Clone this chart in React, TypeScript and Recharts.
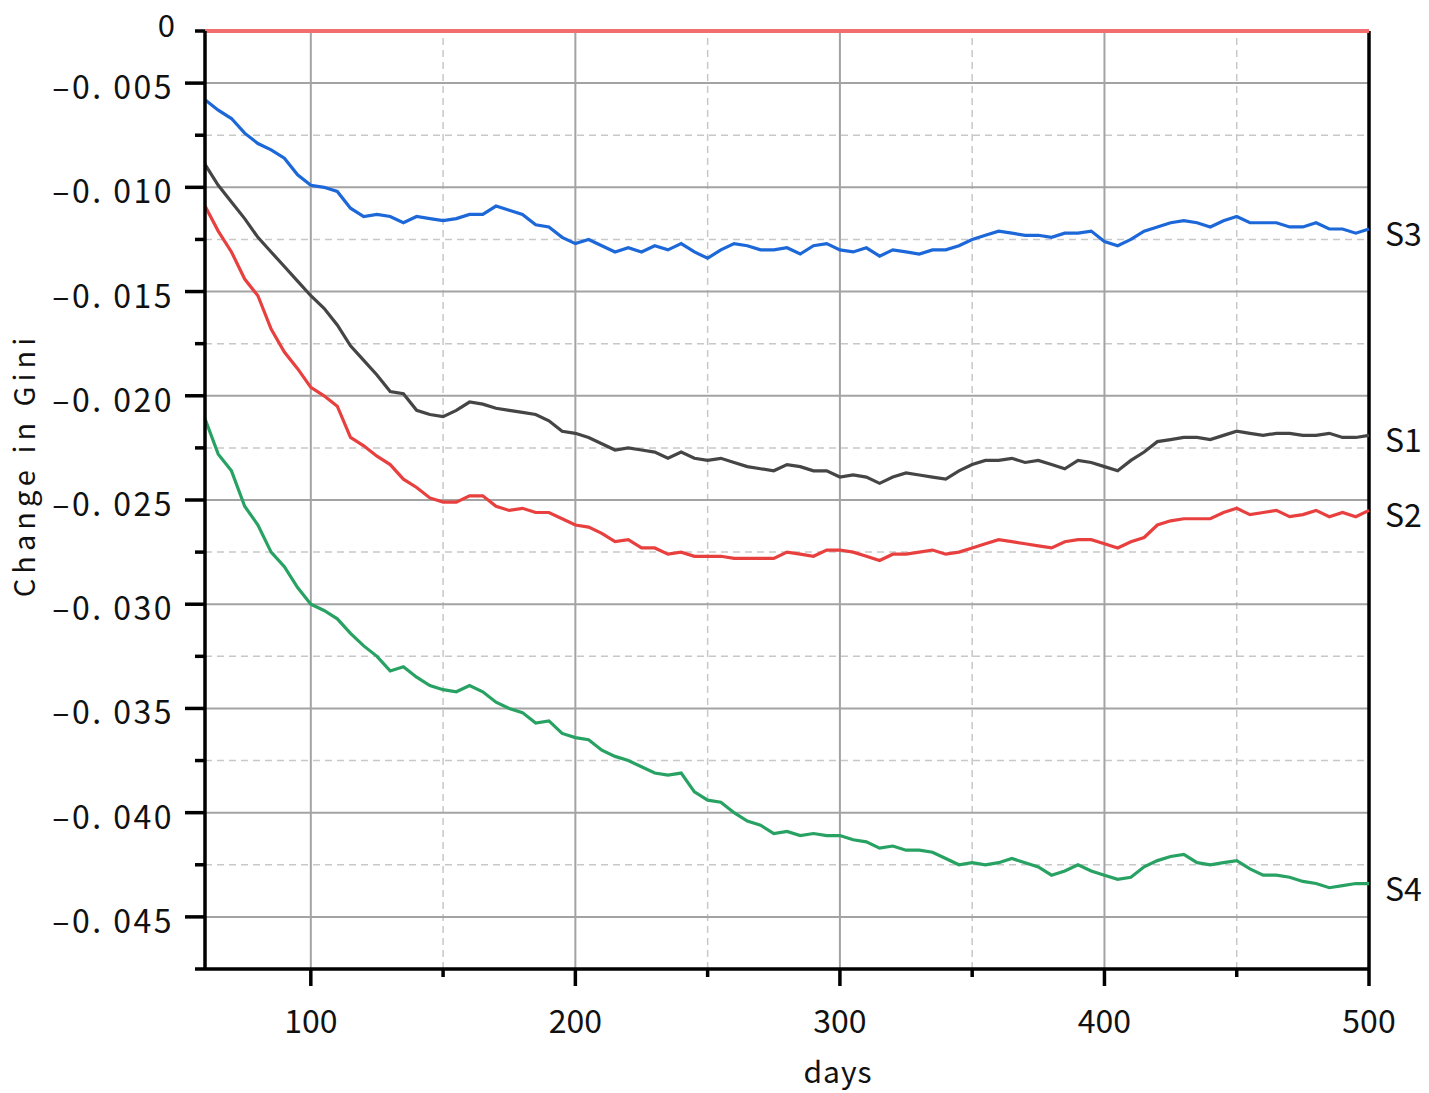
import React from "react";
import {
  LineChart,
  Line,
  XAxis,
  YAxis,
  ReferenceLine,
  Label,
} from "recharts";

// days sampled every 5
const DAYS = [
  60, 65, 70, 75, 80, 85, 90, 95, 100, 105, 110, 115, 120, 125, 130, 135, 140,
  145, 150, 155, 160, 165, 170, 175, 180, 185, 190, 195, 200, 205, 210, 215,
  220, 225, 230, 235, 240, 245, 250, 255, 260, 265, 270, 275, 280, 285, 290,
  295, 300, 305, 310, 315, 320, 325, 330, 335, 340, 345, 350, 355, 360, 365,
  370, 375, 380, 385, 390, 395, 400, 405, 410, 415, 420, 425, 430, 435, 440,
  445, 450, 455, 460, 465, 470, 475, 480, 485, 490, 495, 500,
];

const S1 = [
  -0.0089, -0.0099, -0.0107, -0.0115, -0.0124, -0.0131, -0.0138, -0.0145,
  -0.0152, -0.0158, -0.0166, -0.0176, -0.0183, -0.019, -0.0198, -0.0199,
  -0.0207, -0.0209, -0.021, -0.0207, -0.0203, -0.0204, -0.0206, -0.0207,
  -0.0208, -0.0209, -0.0212, -0.0217, -0.0218, -0.022, -0.0223, -0.0226,
  -0.0225, -0.0226, -0.0227, -0.023, -0.0227, -0.023, -0.0231, -0.023,
  -0.0232, -0.0234, -0.0235, -0.0236, -0.0233, -0.0234, -0.0236, -0.0236,
  -0.0239, -0.0238, -0.0239, -0.0242, -0.0239, -0.0237, -0.0238, -0.0239,
  -0.024, -0.0236, -0.0233, -0.0231, -0.0231, -0.023, -0.0232, -0.0231,
  -0.0233, -0.0235, -0.0231, -0.0232, -0.0234, -0.0236, -0.0231, -0.0227,
  -0.0222, -0.0221, -0.022, -0.022, -0.0221, -0.0219, -0.0217, -0.0218,
  -0.0219, -0.0218, -0.0218, -0.0219, -0.0219, -0.0218, -0.022, -0.022,
  -0.0219,
];

const S2 = [
  -0.0109, -0.0121, -0.0131, -0.0144, -0.0152, -0.0168, -0.0179, -0.0187,
  -0.0196, -0.02, -0.0205, -0.022, -0.0224, -0.0229, -0.0233, -0.024,
  -0.0244, -0.0249, -0.0251, -0.0251, -0.0248, -0.0248, -0.0253, -0.0255,
  -0.0254, -0.0256, -0.0256, -0.0259, -0.0262, -0.0263, -0.0266, -0.027,
  -0.0269, -0.0273, -0.0273, -0.0276, -0.0275, -0.0277, -0.0277, -0.0277,
  -0.0278, -0.0278, -0.0278, -0.0278, -0.0275, -0.0276, -0.0277, -0.0274,
  -0.0274, -0.0275, -0.0277, -0.0279, -0.0276, -0.0276, -0.0275, -0.0274,
  -0.0276, -0.0275, -0.0273, -0.0271, -0.0269, -0.027, -0.0271, -0.0272,
  -0.0273, -0.027, -0.0269, -0.0269, -0.0271, -0.0273, -0.027, -0.0268,
  -0.0262, -0.026, -0.0259, -0.0259, -0.0259, -0.0256, -0.0254, -0.0257,
  -0.0256, -0.0255, -0.0258, -0.0257, -0.0255, -0.0258, -0.0256, -0.0258,
  -0.0255,
];

const S3 = [
  -0.0058, -0.0063, -0.0067, -0.0074, -0.0079, -0.0082, -0.0086, -0.0094,
  -0.0099, -0.01, -0.0102, -0.011, -0.0114, -0.0113, -0.0114, -0.0117,
  -0.0114, -0.0115, -0.0116, -0.0115, -0.0113, -0.0113, -0.0109, -0.0111,
  -0.0113, -0.0118, -0.0119, -0.0124, -0.0127, -0.0125, -0.0128, -0.0131,
  -0.0129, -0.0131, -0.0128, -0.013, -0.0127, -0.0131, -0.0134, -0.013,
  -0.0127, -0.0128, -0.013, -0.013, -0.0129, -0.0132, -0.0128, -0.0127,
  -0.013, -0.0131, -0.0129, -0.0133, -0.013, -0.0131, -0.0132, -0.013,
  -0.013, -0.0128, -0.0125, -0.0123, -0.0121, -0.0122, -0.0123, -0.0123,
  -0.0124, -0.0122, -0.0122, -0.0121, -0.0126, -0.0128, -0.0125, -0.0121,
  -0.0119, -0.0117, -0.0116, -0.0117, -0.0119, -0.0116, -0.0114, -0.0117,
  -0.0117, -0.0117, -0.0119, -0.0119, -0.0117, -0.012, -0.012, -0.0122,
  -0.012,
];

const S4 = [
  -0.0211, -0.0228, -0.0236, -0.0253, -0.0262, -0.0275, -0.0282, -0.0292,
  -0.03, -0.0303, -0.0307, -0.0314, -0.032, -0.0325, -0.0332, -0.033,
  -0.0335, -0.0339, -0.0341, -0.0342, -0.0339, -0.0342, -0.0347, -0.035,
  -0.0352, -0.0357, -0.0356, -0.0362, -0.0364, -0.0365, -0.037, -0.0373,
  -0.0375, -0.0378, -0.0381, -0.0382, -0.0381, -0.039, -0.0394, -0.0395,
  -0.04, -0.0404, -0.0406, -0.041, -0.0409, -0.0411, -0.041, -0.0411,
  -0.0411, -0.0413, -0.0414, -0.0417, -0.0416, -0.0418, -0.0418, -0.0419,
  -0.0422, -0.0425, -0.0424, -0.0425, -0.0424, -0.0422, -0.0424, -0.0426,
  -0.043, -0.0428, -0.0425, -0.0428, -0.043, -0.0432, -0.0431, -0.0426,
  -0.0423, -0.0421, -0.042, -0.0424, -0.0425, -0.0424, -0.0423, -0.0427,
  -0.043, -0.043, -0.0431, -0.0433, -0.0434, -0.0436, -0.0435, -0.0434,
  -0.0434,
];

// axis break: the top of the axis stands for 0
const Y_TOP = -0.0025;
const Y_BOTTOM = -0.0475;
const Y_TICKS = [
  -0.0025, -0.005, -0.0075, -0.01, -0.0125, -0.015, -0.0175, -0.02, -0.0225,
  -0.025, -0.0275, -0.03, -0.0325, -0.035, -0.0375, -0.04, -0.0425, -0.045,
  -0.0475,
];
const Y_MAJOR = [
  -0.005, -0.01, -0.015, -0.02, -0.025, -0.03, -0.035, -0.04, -0.045,
];
const Y_MINOR = [
  -0.0075, -0.0125, -0.0175, -0.0225, -0.0275, -0.0325, -0.0375, -0.0425,
];
const X_TICKS = [100, 150, 200, 250, 300, 350, 400, 450, 500];
const X_MAJOR = [100, 200, 300, 400];
const X_MINOR = [150, 250, 350, 450];

const FONT = "'Noto Sans CJK SC', 'Noto Sans', sans-serif";
const AXIS_W = 3.5;

const data = DAYS.map((d, i) => ({
  day: d,
  s1: S1[i],
  s2: S2[i],
  s3: S3[i],
  s4: S4[i],
}));

const near = (a: number, b: number) => Math.abs(a - b) < 1e-9;

function fmtY(v: number) {
  const n = Math.round(-v * 1000);
  return `–0. ${String(n).padStart(3, "0")}`;
}

function YTick({ x, y, payload }: any) {
  const v = payload.value as number;
  const major = Y_MAJOR.some((m) => near(m, v));
  const len = major ? 20 : 10;
  return (
    <g>
      <line x1={x} x2={x - len} y1={y} y2={y} stroke="#000" strokeWidth={AXIS_W} />
      {major && (
        <text
          x={x - 31}
          y={y + 2}
          textAnchor="end"
          dominantBaseline="central"
          fontFamily={FONT}
          fontSize={32}
          letterSpacing={2.5}
          fill="#111"
        >
          {fmtY(v)}
        </text>
      )}
      {near(v, Y_TOP) && (
        <text
          x={x - 30}
          y={y - 8}
          textAnchor="end"
          dominantBaseline="central"
          fontFamily={FONT}
          fontSize={31}
          fill="#111"
        >
          0
        </text>
      )}
    </g>
  );
}

function XTick({ x, y, payload }: any) {
  const v = payload.value as number;
  const major = v % 100 === 0;
  return (
    <g>
      <line x1={x} x2={x} y1={y} y2={y + (major ? 17 : 8)} stroke="#000" strokeWidth={AXIS_W} />
      {major && (
        <text
          x={x}
          y={y + 50}
          textAnchor="middle"
          dominantBaseline="central"
          fontFamily={FONT}
          fontSize={32}
          fill="#111"
        >
          {v}
        </text>
      )}
    </g>
  );
}

const endLabel = (name: string) => (props: any) => {
  if (props.index !== DAYS.length - 1) return null;
  return (
    <text
      x={props.x + 16}
      y={props.y + 3}
      dominantBaseline="central"
      fontFamily={FONT}
      fontSize={32}
      fill="#111"
    >
      {name}
    </text>
  );
};

export default function App() {
  return (
    <div style={{ position: "absolute", left: 0, top: 0, background: "#fff" }}>
      <LineChart
        width={1429}
        height={1093}
        data={data}
        margin={{ top: 31, right: 60, left: 15, bottom: 4 }}
      >
        {X_MINOR.map((v) => (
          <ReferenceLine key={`xm${v}`} x={v} stroke="#c8c8c8" strokeWidth={1.5} strokeDasharray="7 5" zIndex={-50} />
        ))}
        {Y_MINOR.map((v) => (
          <ReferenceLine key={`ym${v}`} y={v} stroke="#c8c8c8" strokeWidth={1.5} strokeDasharray="7 5" zIndex={-50} />
        ))}
        {X_MAJOR.map((v) => (
          <ReferenceLine key={`xM${v}`} x={v} stroke="#a3a3a3" strokeWidth={2} zIndex={-40} />
        ))}
        {Y_MAJOR.map((v) => (
          <ReferenceLine key={`yM${v}`} y={v} stroke="#a3a3a3" strokeWidth={2} zIndex={-40} />
        ))}
        <XAxis
          dataKey="day"
          type="number"
          domain={[60, 500]}
          ticks={X_TICKS}
          interval={0}
          height={120}
          tickSize={0}
          tickMargin={0}
          tickLine={false}
          axisLine={{ stroke: "#000", strokeWidth: AXIS_W }}
          tick={<XTick />}
        >
          <Label
            content={(p: any) => {
              const vb = p.viewBox;
              return (
                <text
                  x={vb.x + vb.width / 2 + 51}
                  y={vb.y + 101}
                  textAnchor="middle"
                  dominantBaseline="central"
                  fontFamily={FONT}
                  fontSize={30}
                  letterSpacing={1}
                  fill="#111"
                >
                  days
                </text>
              );
            }}
          />
        </XAxis>
        <YAxis
          type="number"
          domain={[Y_BOTTOM, Y_TOP]}
          ticks={Y_TICKS}
          interval={0}
          width={190}
          tickSize={0}
          tickMargin={0}
          tickLine={false}
          axisLine={{ stroke: "#000", strokeWidth: AXIS_W }}
          tick={<YTick />}
        >
          <Label
            content={(p: any) => {
              const vb = p.viewBox;
              const cx = 22;
              const cy = vb.y + vb.height / 2 - 35;
              return (
                <text
                  x={cx}
                  y={cy}
                  transform={`rotate(-90 ${cx} ${cy})`}
                  textAnchor="middle"
                  dominantBaseline="central"
                  fontFamily={FONT}
                  fontSize={29}
                  letterSpacing={5}
                  fill="#111"
                >
                  Change in Gini
                </text>
              );
            }}
          />
        </YAxis>
        <ReferenceLine x={500} stroke="#000" strokeWidth={AXIS_W} />
        <ReferenceLine y={Y_TOP} stroke="#f26d6d" strokeWidth={4} />
        <Line dataKey="s3" stroke="#1c68d8" strokeWidth={3.2} dot={false} isAnimationActive={false} label={endLabel("S3")} />
        <Line dataKey="s1" stroke="#454545" strokeWidth={3.2} dot={false} isAnimationActive={false} label={endLabel("S1")} />
        <Line dataKey="s2" stroke="#e8403f" strokeWidth={3.2} dot={false} isAnimationActive={false} label={endLabel("S2")} />
        <Line dataKey="s4" stroke="#28a263" strokeWidth={3.2} dot={false} isAnimationActive={false} label={endLabel("S4")} />
      </LineChart>
    </div>
  );
}
